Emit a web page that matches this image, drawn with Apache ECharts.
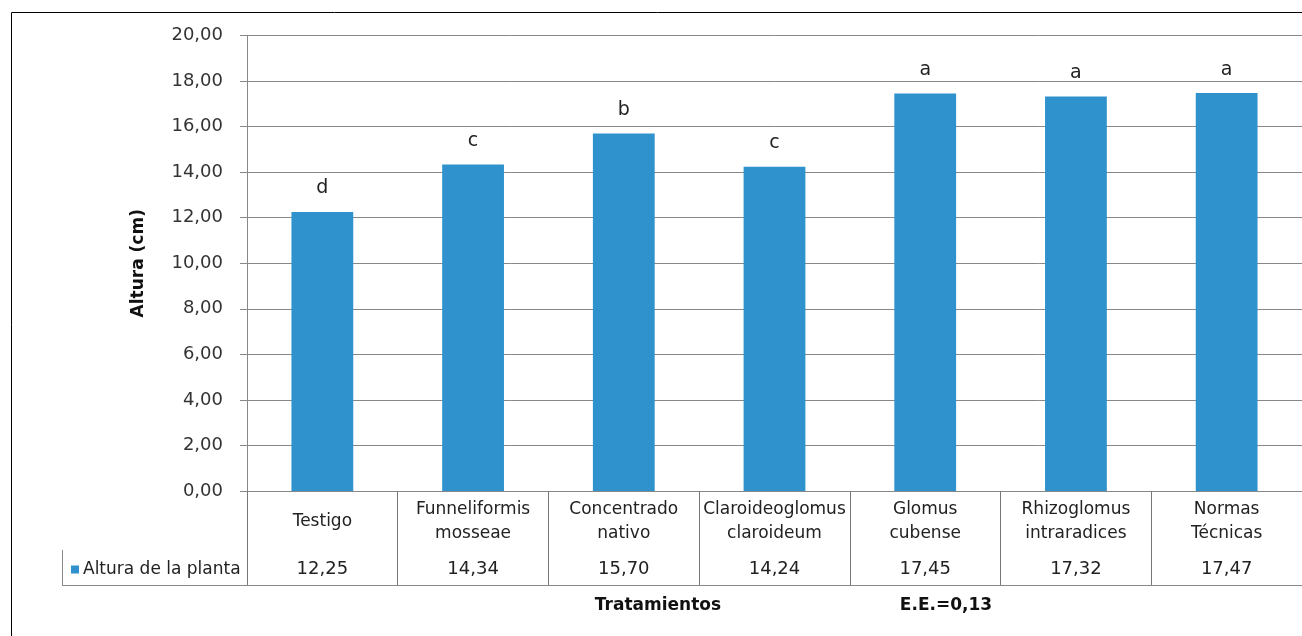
<!DOCTYPE html>
<html>
<head>
<meta charset="utf-8">
<script src="https://cdn.jsdelivr.net/npm/echarts@6/dist/echarts.min.js"></script>
<style>
html,body{margin:0;padding:0;background:#fff;}
#chart{width:1302px;height:636px;}
</style>
</head>
<body>
<div id="chart"></div>
<script>
var categories = ["Testigo", "Funneliformis\nmosseae", "Concentrado\nnativo", "Claroideoglomus\nclaroideum", "Glomus\ncubense", "Rhizoglomus\nintraradices", "Normas\nTécnicas"];
var heights = [12.25, 14.34, 15.70, 14.24, 17.45, 17.32, 17.47];
var letters = ["d", "c", "b", "c", "a", "a", "a"];
var yTicks = { min: 0, max: 20, interval: 2 };
var seriesName = "Altura de la planta";
var xTitle = "Tratamientos";
var yTitle = "Altura (cm)";
var note = "E.E.=0,13";

function fmt(v){ return Number(v).toFixed(2).replace('.', ','); }

var FONT = '"DejaVu Sans", Verdana, sans-serif';
var chart = echarts.init(document.getElementById('chart'));
chart.setOption({
  animation: false,
  backgroundColor: '#ffffff',
  textStyle: { fontFamily: FONT },
  grid: { left: 247, right: 0, top: 35.5, bottom: 145, containLabel: false },
  legend: {
    data: [seriesName], left: 66, top: 556, icon: 'rect', itemWidth: 8, itemHeight: 8, itemGap: 2,
    textStyle: { fontSize: 17, color: '#222', fontFamily: FONT, padding: [0,0,0,-1] }
  },
  xAxis: [{
    type: 'category', data: categories, position: 'bottom',
    axisLine: { show: true, lineStyle: { color: '#888', width: 1 } },
    axisTick: { show: true, length: 94, alignWithLabel: false, lineStyle: { color: '#777', width: 1 } },
    axisLabel: { interval: 0, margin: 31, fontSize: 17, color: '#222', lineHeight: 24, verticalAlign: 'middle', fontFamily: FONT }
  }, {
    type: 'category', data: heights.map(fmt), position: 'bottom',
    axisLine: { show: false }, axisTick: { show: false },
    axisLabel: { interval: 0, margin: 78, fontSize: 18, color: '#222', verticalAlign: 'middle', fontFamily: FONT }
  }],
  yAxis: {
    type: 'value', min: yTicks.min, max: yTicks.max, interval: yTicks.interval,
    name: yTitle, nameLocation: 'middle', nameGap: 100,
    nameTextStyle: { fontSize: 17, fontWeight: 'bold', color: '#111', fontFamily: FONT },
    axisLine: { show: true, lineStyle: { color: '#888', width: 1 } },
    axisTick: { show: true, length: 7, lineStyle: { color: '#888' } },
    axisLabel: { formatter: fmt, fontSize: 18, color: '#333', margin: 24, fontFamily: FONT },
    splitLine: { show: true, lineStyle: { color: '#888', width: 1 } }
  },
  series: [{
    name: seriesName, type: 'bar', data: heights, barWidth: '41%',
    itemStyle: { color: '#2F92CC' },
    label: {
      show: true, position: 'top', distance: 14, fontSize: 19, color: '#222', fontFamily: FONT,
      formatter: function(p){ return letters[p.dataIndex]; }
    }
  }],
  graphic: [
    { type: 'rect', shape: { x: 11.5, y: 12.5, width: 1400, height: 700 }, style: { fill: 'none', stroke: '#000', lineWidth: 1 }, silent: true },
    { type: 'line', shape: { x1: 62, y1: 585.5, x2: 1302, y2: 585.5 }, style: { stroke: '#888', lineWidth: 1 } },
    { type: 'line', shape: { x1: 62.5, y1: 550, x2: 62.5, y2: 585 }, style: { stroke: '#888', lineWidth: 1 } },
    { type: 'text', x: 658, y: 606, style: { text: xTitle, fontSize: 17, fontWeight: 'bold', fill: '#111', textAlign: 'center', textVerticalAlign: 'middle', fontFamily: FONT } },
    { type: 'text', x: 946, y: 606, style: { text: note, fontSize: 17, fontWeight: 'bold', fill: '#111', textAlign: 'center', textVerticalAlign: 'middle', fontFamily: FONT } }
  ]
});
</script>
</body>
</html>
